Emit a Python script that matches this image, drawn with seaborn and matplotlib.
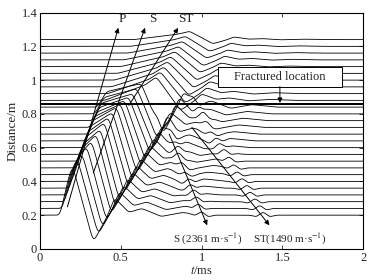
#%% Imports
import numpy as np
import matplotlib
matplotlib.use('Agg')
import matplotlib.pyplot as plt
import matplotlib.patches as mpatches
import seaborn as sns
import pandas as pd

#%% Data

# trace positions (m)
dist = [0.20, 0.24, 0.28, 0.32, 0.36, 0.40, 0.44, 0.48, 0.52, 0.56, 0.60, 0.64, 0.68, 0.72,
        0.76, 0.80, 0.84, 0.88, 0.92, 0.96, 1.00, 1.04, 1.08, 1.12, 1.16, 1.20, 1.24]
# first departure from baseline (ms)
t_start = [0.124, 0.14, 0.155, 0.17, 0.185, 0.20, 0.215, 0.23, 0.24, 0.255, 0.27, 0.285, 0.30, 0.31,
           0.325, 0.34, 0.355, 0.40, 0.42, 0.44, 0.46, 0.48, 0.50, 0.52, 0.54, 0.56, 0.58]
# end of the steep rise (ms)
t_mid = [0.17, 0.185, 0.20, 0.215, 0.23, 0.245, 0.26, 0.275, 0.29, 0.305, 0.32, 0.335, 0.35, 0.365,
         0.38, 0.395, 0.41, 0.65, 0.675, 0.70, 0.72, 0.74, 0.765, 0.785, 0.81, 0.83, 0.855]
# main peak time (ms) and height
t_peak = [0.20, 0.23, 0.26, 0.29, 0.32, 0.35, 0.375, 0.40, 0.425, 0.45, 0.475, 0.50, 0.525, 0.55,
          0.575, 0.60, 0.625, 0.72, 0.745, 0.767, 0.79, 0.81, 0.835, 0.857, 0.88, 0.90, 0.925]
amp = [0.30, 0.30, 0.29, 0.29, 0.28, 0.28, 0.27, 0.27, 0.26, 0.25, 0.24, 0.22, 0.20, 0.18,
       0.16, 0.15, 0.14, 0.14, 0.13, 0.12, 0.11, 0.10, 0.09, 0.08, 0.07, 0.06, 0.05]
# trough time (ms) and depth
t_trough = [0.33, 0.36, 0.385, 0.41, 0.44, 0.465, 0.49, 0.52, 0.545, 0.57, 0.60, 0.625, 0.65, 0.68,
            0.705, 0.73, 0.76, 0.87, 0.90, 0.92, 0.95, 0.97, 0.99, 1.01, 1.03, 1.05, 1.07]
depth = [0.16, 0.155, 0.15, 0.15, 0.15, 0.15, 0.15, 0.15, 0.15, 0.15, 0.15, 0.15, 0.15, 0.15,
         0.15, 0.15, 0.15, 0.06, 0.055, 0.05, 0.045, 0.04, 0.035, 0.035, 0.03, 0.03, 0.025]

# reflected arrivals from the fracture on the traces below it (ms)
t_refl_s = [1.00, 0.98, 0.97, 0.95, 0.93, 0.92, 0.90, 0.88, 0.86, 0.85, 0.83, 0.81, 0.80, 0.78,
            0.76, 0.75, 0.73]
t_refl_st = [1.38, 1.36, 1.33, 1.30, 1.28, 1.25, 1.22, 1.20, 1.17, 1.14, 1.11, 1.09, 1.06, 1.03,
             1.01, 0.98, 0.95]
refl_amp = 0.022

# coda after the trough (ms after trough, fraction of depth)
coda_dt = [0.09, 0.13, 0.22, 0.30, 0.42, 0.55, 0.70]
coda_w = [0.0, 0.65, 0.1, 0.25, -0.05, 0.1, 0.0]

# small wiggle used for the reflections
wig_dt = [-0.08, -0.04, 0.0, 0.04, 0.08]
wig_w = [0.0, -0.5, 1.0, -0.5, 0.0]

fracture = 0.86

#%% Build traces

t = np.linspace(0, 2, 2001)
kern = np.exp(-0.5*(np.arange(-33, 34)/11)**2)
kern = kern/kern.sum()

rows = []
for i in range(len(dist)):
    A, B = amp[i], depth[i]
    kt = [0, t_start[i], t_mid[i], t_peak[i], t_trough[i]] + [t_trough[i] + c for c in coda_dt] + [2.0]
    ky = [0, 0, 0.65*A, A, -B] + [B*c for c in coda_w] + [0]
    y = np.interp(t, kt, ky)
    if i < len(t_refl_s):
        y += refl_amp*np.interp(t - t_refl_s[i], wig_dt, wig_w, left=0, right=0)
        y += refl_amp*np.interp(t - t_refl_st[i], wig_dt, wig_w, left=0, right=0)
    y = np.convolve(np.pad(y, 33, mode='edge'), kern, mode='valid')
    rows.append(pd.DataFrame({'t': t, 'y': dist[i] + y, 'trace': i}))
df = pd.concat(rows)

#%% Plot

sns.set_theme(style='ticks')
plt.rcParams['font.family'] = ['Liberation Serif', 'DejaVu Serif']
plt.rcParams['mathtext.fontset'] = 'stix'

fig = plt.figure(figsize=(3.81, 2.80), dpi=100)
ax = fig.add_axes([0.105, 0.111, 0.848, 0.844])

sns.lineplot(data=df, x='t', y='y', units='trace', estimator=None, color='black',
             lw=0.6, legend=False, ax=ax, sort=False)
ax.axhline(fracture, color='black', lw=1.4)

arr = dict(arrowstyle='-|>', color='black', lw=0.7, mutation_scale=7, shrinkA=0, shrinkB=0)
ax.annotate('', xy=(0.485, 1.31), xytext=(0.17, 0.25), arrowprops=arr)
ax.annotate('', xy=(0.65, 1.31), xytext=(0.33, 0.45), arrowprops=arr)
ax.annotate('', xy=(0.855, 1.31), xytext=(0.55, 0.85), arrowprops=arr)
ax.text(0.51, 1.36, 'P', ha='center', va='center', fontsize=9.5)
ax.text(0.70, 1.36, 'S', ha='center', va='center', fontsize=9.5)
ax.text(0.90, 1.36, 'ST', ha='center', va='center', fontsize=9.5)

ax.annotate('', xy=(1.035, 0.14), xytext=(0.80, 0.68), arrowprops=arr)
ax.annotate('', xy=(1.42, 0.14), xytext=(0.94, 0.72), arrowprops=arr)
ax.text(1.04, 0.055, 'S (2361 m·s$^{-1}$)', ha='center', va='center', fontsize=8)
ax.text(1.545, 0.055, 'ST(1490 m·s$^{-1}$)', ha='center', va='center', fontsize=8)

# label box of the fracture
ax.add_patch(mpatches.Rectangle((1.10, 0.962), 0.77, 0.118, fc='white', ec='black', lw=0.7, zorder=3))
ax.text(1.485, 1.021, 'Fractured location', ha='center', va='center', fontsize=9, zorder=4)
ax.annotate('', xy=(1.485, 0.865), xytext=(1.485, 0.962), arrowprops=arr)

ax.set_xlim(0, 2)
ax.set_ylim(0, 1.4)
ax.set_xticks([0, 0.5, 1, 1.5, 2])
ax.set_xticklabels(['0', '0.5', '1', '1.5', '2'])
ax.set_yticks([0, 0.2, 0.4, 0.6, 0.8, 1, 1.2, 1.4])
ax.set_yticklabels(['0', '0.2', '0.4', '0.6', '0.8', '1', '1.2', '1.4'])
ax.tick_params(direction='in', top=True, right=True, length=3, width=0.6, labelsize=9, pad=2)
for s in ax.spines.values():
    s.set_linewidth(0.8)
    s.set_color('black')
ax.set_xlabel('$t$/ms', fontsize=9, labelpad=1)
ax.set_ylabel('Distance/m', fontsize=9.5, labelpad=2)

fig.savefig('out.png', dpi=100)
